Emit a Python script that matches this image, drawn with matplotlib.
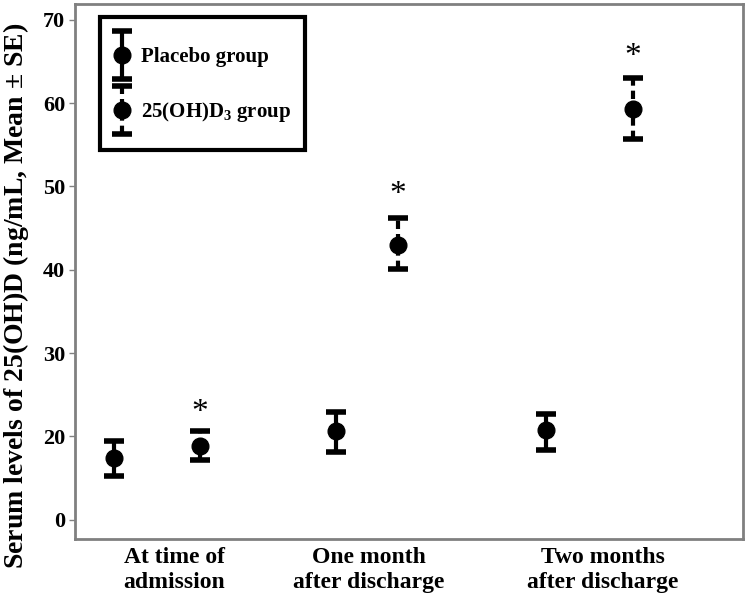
import matplotlib
matplotlib.use('Agg')
from matplotlib import pyplot as plt
from matplotlib.legend_handler import HandlerErrorbar
import numpy as np

plt.rcParams['font.family'] = 'Liberation Serif'
plt.rcParams['font.weight'] = 'bold'
plt.rcParams['mathtext.fontset'] = 'custom'
plt.rcParams['mathtext.rm'] = 'Liberation Serif:bold'
plt.rcParams['mathtext.it'] = 'Liberation Serif:bold'
plt.rcParams['mathtext.bf'] = 'Liberation Serif:bold'

####################
# data
####################

timepoints = ['At time of\nadmission', 'One month\nafter discharge', 'Two months\nafter discharge']

placebo_mean = [17.4, 20.6, 20.8]
placebo_upper = [19.5, 22.9, 22.7]
placebo_lower = [15.3, 18.1, 18.4]

vitd_mean = [18.8, 43.0, 59.3]
vitd_upper = [20.6, 46.2, 63.0]
vitd_lower = [17.2, 40.1, 55.7]

# significance marks above the 25(OH)D3 group
star_y = [22.8, 49.0, 65.6]

# y axis is broken: the "0" label sits where 10 would be
ytick_pos = [10, 20, 30, 40, 50, 60, 70]
ytick_lab = ['0', '20', '30', '40', '50', '60', '70']

####################
# layout (x in figure pixel units)
####################

x_placebo = [114, 336, 546]
x_vitd = [200, 398, 633]
x_labels = [174, 369, 603]


class ShiftedErrorbar(HandlerErrorbar):
    # errorbar handle, moved down so it is centred on its label
    def create_artists(self, legend, orig_handle, xdescent, ydescent,
                       width, height, fontsize, trans):
        return super().create_artists(legend, orig_handle, xdescent,
                                      ydescent + 13, width, height,
                                      fontsize, trans)


fig = plt.figure(figsize=(7.47, 6.02), dpi=100)
ax = fig.add_axes([75/747, 63/602, 668/747, 535/602])

p_err = [np.array(placebo_mean) - np.array(placebo_lower),
         np.array(placebo_upper) - np.array(placebo_mean)]
v_err = [np.array(vitd_mean) - np.array(vitd_lower),
         np.array(vitd_upper) - np.array(vitd_mean)]

pb = ax.errorbar(x_placebo, placebo_mean, yerr=p_err, fmt='o', color='black',
                 markersize=12, elinewidth=3, capsize=7, capthick=4,
                 label='Placebo group')
eb = ax.errorbar(x_vitd, vitd_mean, yerr=v_err, fmt='o', color='black',
                 markersize=12, elinewidth=3, capsize=7, capthick=4,
                 label=r'25(OH)D$_3$ group')
eb[2][0].set_linestyle((0, (2, 1.2)))

for x, y in zip(x_vitd, star_y):
    ax.text(x, y, '*', ha='center', va='center', fontsize=24, fontweight='normal')

ax.set_xlim(75, 743)
ax.set_ylim(7.7, 71.9)
ax.set_yticks(ytick_pos)
ax.set_yticklabels(ytick_lab, fontsize=16, fontweight='bold')
ax.set_xticks(x_labels)
ax.set_xticklabels(timepoints, fontsize=17, fontweight='bold', linespacing=1.2)
ax.tick_params(axis='x', length=0, pad=6)
ax.tick_params(axis='y', length=4, width=1, color='#808080', pad=3)

for s in ax.spines.values():
    s.set_color('#808080')
    s.set_linewidth(2)

ax.set_ylabel(r'Serum levels of 25(OH)D (ng/mL, Mean $\pm$ SE)',
              fontsize=20, fontweight='bold')
ax.yaxis.set_label_coords(-0.066, 0.455)

hm = {pb: ShiftedErrorbar(yerr_size=1.15), eb: ShiftedErrorbar(yerr_size=1.15)}
leg = ax.legend(loc='upper left', bbox_to_anchor=(0.037, 0.976), fontsize=15,
                frameon=True, fancybox=False, handlelength=0.8, handleheight=3.4,
                handletextpad=0.55, labelspacing=0.2, borderpad=0.65,
                borderaxespad=0, handler_map=hm)
leg.get_frame().set_edgecolor('black')
leg.get_frame().set_linewidth(3)
leg.get_frame().set_alpha(1)

fig.savefig('out.png', dpi=100)
